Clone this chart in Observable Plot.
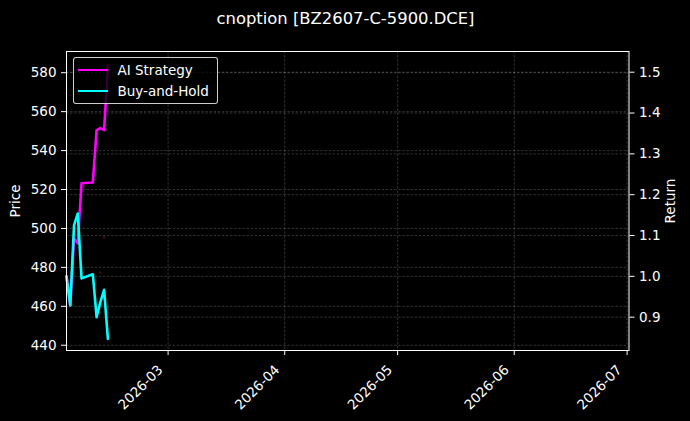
<!DOCTYPE html>
<html><head><meta charset="utf-8">
<script src="https://cdn.jsdelivr.net/npm/d3@7"></script>
<script src="https://cdn.jsdelivr.net/npm/@observablehq/plot@0.6"></script>
<style>
html,body{margin:0;padding:0;background:#000;}
#wrap{position:relative;width:690px;height:421px;background:#000;font-family:"DejaVu Sans",sans-serif;overflow:hidden;}
#legend{position:absolute;left:72.5px;top:57px;width:145px;height:47px;box-sizing:border-box;border:1px solid rgba(255,255,255,0.8);border-radius:3px;background:rgba(0,0,0,0.8);}
.lg-item{position:absolute;left:0;height:20px;width:140px;}
.lg-line{position:absolute;left:4px;width:30px;height:2.6px;}
.lg-text{position:absolute;left:44px;color:#fff;font-size:13.5px;line-height:16px;white-space:nowrap;}
</style>
</head><body>
<div id="wrap"></div>
<script>
const dates = ["2026-02-02","2026-02-03","2026-02-04","2026-02-05","2026-02-06","2026-02-09","2026-02-10","2026-02-11","2026-02-12","2026-02-13"];
const aiStrategy = [1.000,0.929,1.093,1.081,1.228,1.230,1.358,1.363,1.358,1.517];
const buyHold    = [1.000,0.929,1.125,1.154,0.995,1.005,0.900,0.937,0.967,0.847];
const markerDates = ["2026-02-11","2026-02-12"];
const markerPrices = [477.4, 495.5];
const priceTicks = [440,460,480,500,520,540,560,580];
const returnTicks = [0.9,1.0,1.1,1.2,1.3,1.4,1.5];
const monthTicks = ["2026-03-01","2026-04-01","2026-05-01","2026-06-01","2026-07-01"];
const xDomainStr = ["2026-02-02T00:00:00Z","2026-07-01T12:00:00Z"];
const priceDomain = [437.3, 590.9];
const returnDomain = [0.8184, 1.5507];
const seriesNames = ["AI Strategy","Buy-and-Hold"];
const seriesColors = ["#ff00ff","#00ffff"];
const titleText = "cnoption [BZ2607-C-5900.DCE]";

const parse = s => new Date(s.length <= 10 ? s + "T00:00:00Z" : s);
const toRet = p => returnDomain[0] + (p - priceDomain[0]) * (returnDomain[1] - returnDomain[0]) / (priceDomain[1] - priceDomain[0]);
const fromRet = r => priceDomain[0] + (r - returnDomain[0]) * (priceDomain[1] - priceDomain[0]) / (returnDomain[1] - returnDomain[0]);

const W = 690, H = 421, mt = 51, mb = 71, ml = 66, mr = 61.5;
const perPx = (returnDomain[1] - returnDomain[0]) / (H - mt - mb);

const aiData = dates.map((d,i) => ({date: parse(d), v: aiStrategy[i]}));
const bhData = dates.map((d,i) => ({date: parse(d), v: buyHold[i]}));
const mkData = markerDates.map((d,i) => ({date: parse(d), v: toRet(markerPrices[i])}));
const xt = monthTicks.map(parse);
const fmt = d3.utcFormat("%Y-%m");
const gridStyle = {stroke:"#fff", strokeOpacity:0.28, strokeWidth:0.7, strokeDasharray:"2.5,1.6"};

const plot = Plot.plot({
  width: W, height: H,
  marginTop: mt, marginBottom: mb, marginLeft: ml, marginRight: mr,
  style: {background:"#000", color:"#fff", fontFamily:"'DejaVu Sans', sans-serif", fontSize:"13.5px"},
  x: {type:"utc", domain: xDomainStr.map(parse), axis: null},
  y: {domain: returnDomain, axis: null},
  marks: [
    Plot.gridX(xt, gridStyle),
    Plot.gridY(priceTicks.map(toRet), gridStyle),
    Plot.gridY(returnTicks, gridStyle),
    Plot.lineY(aiData, {x:"date", y:"v", stroke: seriesColors[0], strokeWidth:2.6}),
    Plot.lineY(bhData, {x:"date", y:"v", stroke: seriesColors[1], strokeWidth:2.6}),
    Plot.dot(mkData, {x:"date", y:"v", r:1.3, fill:"#ff2020", fillOpacity:0.3, stroke:null}),
    Plot.frame({stroke:"#fff", strokeWidth:1}),
    Plot.axisY(priceTicks.map(toRet), {anchor:"left", tickSize:5, tickPadding:5, label:null,
      tickFormat: d => String(Math.round(fromRet(d))), fontSize:13.5}),
    Plot.axisY(returnTicks, {anchor:"right", tickSize:5, tickPadding:5, label:null,
      tickFormat: d => d.toFixed(1), fontSize:13.5}),
    Plot.ruleX(xt, {x: d => d, y1: returnDomain[0], y2: returnDomain[0] - 5*perPx, stroke:"#fff", strokeWidth:1}),
    Plot.text(xt, {x: d => d, frameAnchor:"bottom", text: d => fmt(d), rotate:-45, textAnchor:"end", lineAnchor:"middle", dx:-7.5, dy:17, fontSize:13.5, fill:"#fff"}),
    Plot.text(["Price"], {frameAnchor:"left", text: d => d, rotate:-90, textAnchor:"middle", lineAnchor:"middle", dx:-50.5, fontSize:13.5, fill:"#fff"}),
    Plot.text(["Return"], {frameAnchor:"right", text: d => d, rotate:-90, textAnchor:"middle", lineAnchor:"middle", dx:41.5, fontSize:13.5, fill:"#fff"}),
    Plot.text([titleText], {frameAnchor:"top", text: d => d, textAnchor:"middle", lineAnchor:"middle", dy:-33, dx:(mr-ml)/2, fontSize:16.4, fill:"#fff"})
  ]
});
const wrap = document.getElementById("wrap");
wrap.appendChild(plot);

const lg = document.createElement("div");
lg.id = "legend";
seriesNames.forEach((name, i) => {
  const item = document.createElement("div");
  item.className = "lg-item";
  item.style.top = (i * 21) + "px";
  const ln = document.createElement("div");
  ln.className = "lg-line";
  ln.style.background = seriesColors[i];
  ln.style.top = "10.7px";
  const tx = document.createElement("div");
  tx.className = "lg-text";
  tx.style.top = "4px";
  tx.textContent = name;
  item.appendChild(ln); item.appendChild(tx);
  lg.appendChild(item);
});
wrap.appendChild(lg);
</script>
</body></html>
